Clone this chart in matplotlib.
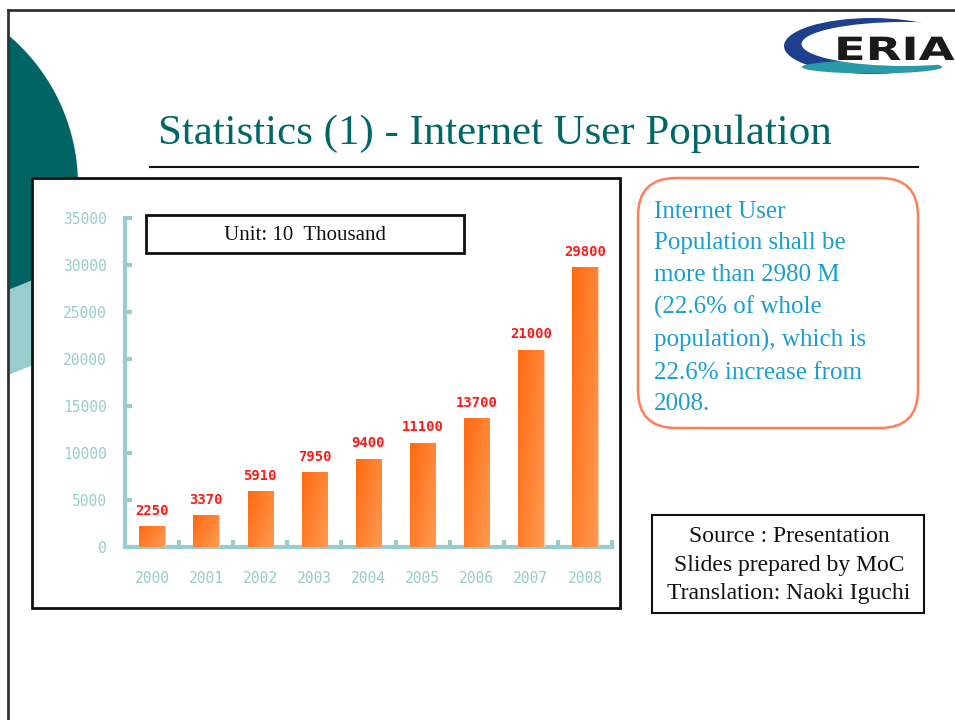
import numpy as np
import matplotlib.pyplot as plt
from matplotlib.patches import Rectangle, FancyBboxPatch, Circle, Ellipse, Polygon, PathPatch
from matplotlib.colors import LinearSegmentedColormap
from matplotlib.textpath import TextPath
from matplotlib.font_manager import FontProperties
from matplotlib.transforms import Affine2D

# data
years = ["2000", "2001", "2002", "2003", "2004", "2005", "2006", "2007", "2008"]
users = [2250, 3370, 5910, 7950, 9400, 11100, 13700, 21000, 29800]
yticks = [0, 5000, 10000, 15000, 20000, 25000, 30000, 35000]

title = "Statistics (1) - Internet User Population"
unit_text = "Unit: 10  Thousand"
note_lines = ["Internet User", "Population shall be", "more than 2980 M",
              "(22.6% of whole", "population), which is",
              "22.6% increase from", "2008."]
source_lines = ["Source : Presentation", "Slides prepared by MoC",
                "Translation: Naoki Iguchi"]

W, H = 955, 720
fig = plt.figure(figsize=(W / 100, H / 100), dpi=100)
fig.patch.set_facecolor("white")

# slide background in pixel coordinates
bg = fig.add_axes([0, 0, 1, 1])
bg.set_xlim(0, W)
bg.set_ylim(H, 0)
bg.axis("off")

# teal decoration on the left
clip_light = Polygon([(8, 290), (400, 290 - 0.4 * 392), (400, 375 - 0.4 * 392), (8, 375)],
                     closed=True, transform=bg.transData)
clip_dark = Polygon([(8, 0), (400, 0), (400, 290 - 0.4 * 392), (8, 290)],
                    closed=True, transform=bg.transData)
light = Circle((-165, 215), 250, facecolor="#99cccc", edgecolor="none", zorder=1)
dark = Circle((-118, 185), 196, facecolor="#006464", edgecolor="none", zorder=2)
bg.add_patch(light)
bg.add_patch(dark)
light.set_clip_path(clip_light)
dark.set_clip_path(clip_dark)

# slide frame
bg.plot([8, 8], [10, H], color="#333333", lw=2, zorder=3)
bg.plot([8, W], [10, 10], color="#333333", lw=2, zorder=3)

# logo
bg.add_patch(Ellipse((872, 46), 176, 56, facecolor="#1d3f8e", edgecolor="none", zorder=3))
bg.add_patch(Ellipse((872, 67), 140, 13, facecolor="#2a9aa8", edgecolor="none", zorder=3))
bg.add_patch(Ellipse((904, 44), 205, 44, facecolor="white", edgecolor="none", zorder=4))
tp = TextPath((0, 0), "ERIA", size=32,
              prop=FontProperties(family="DejaVu Sans", weight="bold"))
logo = PathPatch(tp, facecolor="#1a1a1a", edgecolor="none", zorder=5,
                 transform=Affine2D().scale(1.45, -1).translate(834, 60) + bg.transData)
bg.add_patch(logo)

# title and rule
bg.text(158, 134, title, fontsize=31, color="#006666",
        family="Liberation Serif", va="center", ha="left", zorder=5)
bg.plot([150, 918], [167, 167], color="#111111", lw=1.5, zorder=5)

# chart frame with shadow
bg.add_patch(Rectangle((34, 180), 588, 430, facecolor="#999999", edgecolor="none", zorder=5))
bg.add_patch(Rectangle((32, 178), 588, 430, facecolor="white", edgecolor="#111111",
                       lw=2, zorder=6))

# unit box
bg.add_patch(Rectangle((146, 215), 318, 38, facecolor="white", edgecolor="#111111",
                       lw=2, zorder=8))
bg.text(305, 235, unit_text, fontsize=15, family="Liberation Serif",
        color="#111111", ha="center", va="center", zorder=9)

# note box
bg.add_patch(FancyBboxPatch((638, 178), 280, 250,
                            boxstyle="round,pad=0,rounding_size=38",
                            facecolor="white", edgecolor="#ff7f5a", lw=1.8, zorder=6))
bg.text(654, 308, "\n".join(note_lines), fontsize=18, family="Liberation Serif",
        color="#1a9ed2", ha="left", va="center", linespacing=1.56, zorder=7)

# source box
bg.add_patch(Rectangle((652, 515), 272, 98, facecolor="white", edgecolor="#111111",
                       lw=1.5, zorder=6))
bg.text(789, 565, "\n".join(source_lines), fontsize=17, family="Liberation Serif",
        color="#111111", ha="center", va="center", linespacing=1.46, zorder=7)

# bar chart
ax = fig.add_axes([125 / W, (H - 547) / H, (612 - 125) / W, (547 - 218) / H], zorder=10)
ax.patch.set_alpha(0)
x = np.arange(len(years))
bars = ax.bar(x, users, width=0.47, color="#ff7a2a", edgecolor="#ffd0b0", lw=0.8, zorder=3)

# orange gradient in each bar
grad = np.linspace(0, 1, 64)
gx, gy = np.meshgrid(grad, grad)
img = gx * 0.6 + gy * 0.4
cmap = LinearSegmentedColormap.from_list("org", ["#ff6a10", "#ff9a52"])
for b in bars:
    im = ax.imshow(img, cmap=cmap, aspect="auto", zorder=4,
                   extent=[b.get_x(), b.get_x() + b.get_width(), 0, b.get_height()],
                   origin="upper")
    im.set_clip_path(b)

for xi, v in zip(x, users):
    ax.annotate(f"{v}", xy=(xi, v), xytext=(0, 6), textcoords="offset points",
                ha="center", va="bottom", color="#ff1a1a", fontsize=10,
                fontweight="bold", family="DejaVu Sans Mono")

teal = "#99cccc"
for s in ["top", "right"]:
    ax.spines[s].set_visible(False)
for s in ["left", "bottom"]:
    ax.spines[s].set_color(teal)
    ax.spines[s].set_linewidth(3)

ax.set_yticks(yticks)
ax.set_yticklabels([str(t) for t in yticks])
ax.tick_params(axis="y", direction="in", length=5, width=3, color=teal,
               labelcolor=teal, labelsize=10.5, pad=13)
ax.set_xticks(x)
ax.set_xticklabels(years)
ax.tick_params(axis="x", which="major", length=0, labelcolor=teal, labelsize=10.5, pad=17)
ax.set_xticks(list(x[1:] - 0.5) + [len(years) - 0.5], minor=True)
ax.tick_params(axis="x", which="minor", direction="in", length=5, width=3, color=teal)
for lab in ax.get_xticklabels() + ax.get_yticklabels():
    lab.set_family("DejaVu Sans Mono")
ax.set_ylim(0, 35000)
ax.set_xlim(-0.5, len(years) - 0.5)

fig.savefig("out.png", dpi=100)
